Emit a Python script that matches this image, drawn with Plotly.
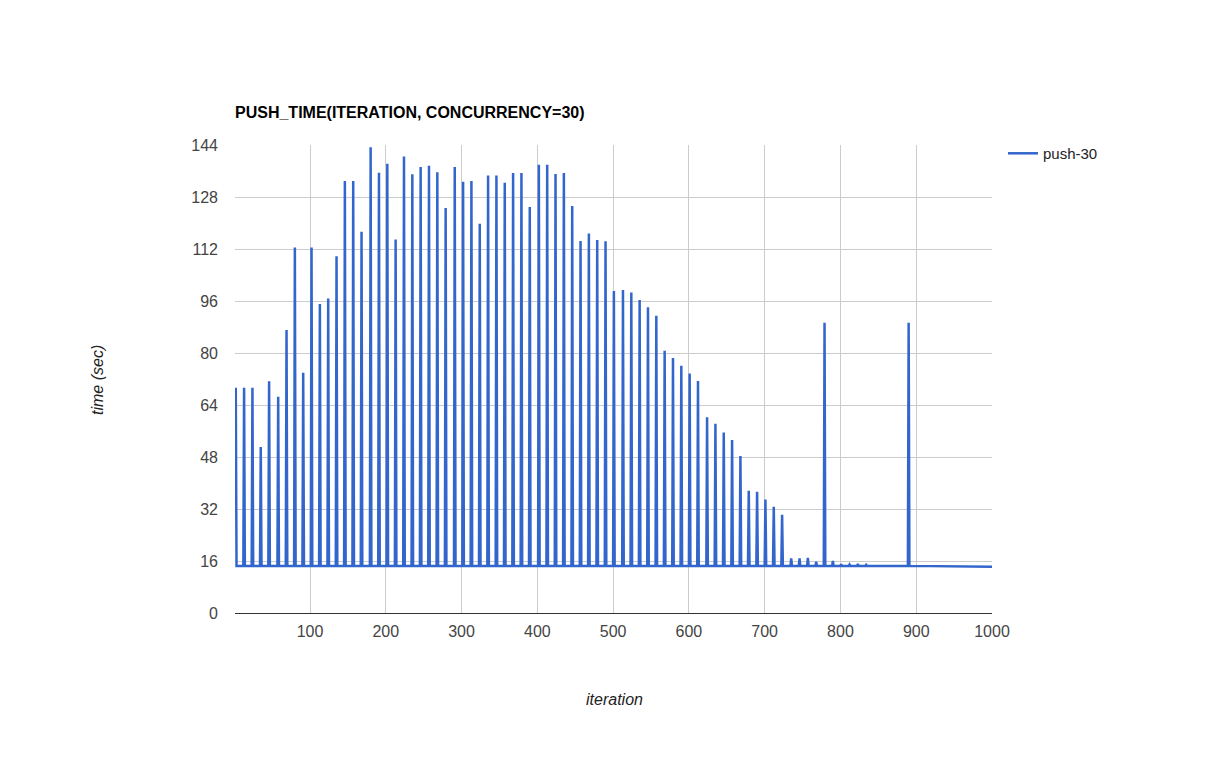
import plotly.graph_objects as go

# ---- data ----
start_iter = 1
start_time = 42.0
baseline = 14.5
end_iter = 1000
end_time = 14.2

spike_iters = [2, 13, 24, 35, 46, 58, 69, 80, 91, 102,
               113, 124, 135, 146, 157, 168, 180, 191, 202, 213,
               224, 235, 246, 257, 268, 279, 291, 302, 313, 324,
               335, 346, 357, 368, 379, 390, 402, 413, 424, 435,
               446, 457, 468, 479, 490, 501, 513, 524, 535, 546,
               557, 568, 579, 590, 601, 612, 624, 635, 646, 657,
               668, 679, 690, 701, 712, 723, 735, 746, 757, 768,
               779, 790, 801, 812, 823, 834, 890]
spike_peaks = [69.3, 69.3, 69.3, 51.1, 71.3, 66.5, 87.1, 112.5, 73.9, 112.5,
               95.1, 96.8, 109.8, 132.9, 132.9, 117.3, 143.3, 135.5, 138.2, 114.9,
               140.5, 135.0, 137.2, 137.6, 135.6, 124.6, 137.2, 132.7, 132.9, 119.8,
               134.6, 134.6, 132.4, 135.4, 135.4, 124.9, 137.9, 137.9, 135.1, 135.4,
               125.2, 114.5, 116.8, 114.8, 114.4, 99.1, 99.4, 98.6, 96.3, 94.1,
               91.5, 80.7, 78.5, 76.1, 73.7, 71.4, 60.2, 58.2, 55.5, 53.2,
               48.3, 37.6, 37.3, 34.9, 32.7, 30.2, 16.8, 16.8, 17.0, 15.8,
               89.3, 16.0, 15.0, 14.9, 15.1, 14.8, 89.3]

x_ticks = [100, 200, 300, 400, 500, 600, 700, 800, 900, 1000]
y_ticks = [0, 16, 32, 48, 64, 80, 96, 112, 128, 144]

# ---- build the line: baseline between spikes ----
xs = [start_iter]
ys = [start_time]
for s, p in zip(spike_iters, spike_peaks):
    if s - 1 > xs[-1]:
        xs.append(s - 1)
        ys.append(baseline)
    xs.append(s)
    ys.append(p)
    xs.append(s + 1)
    ys.append(baseline)
xs.append(end_iter)
ys.append(end_time)

FONT = "Arial, Liberation Sans, sans-serif"

# page body has an 8px margin; figure sized so plot area lands at
# x 235..992, y 145..613 in the 1227x759 window
W, H = 1211, 743
OFF = 8

fig = go.Figure()
fig.add_trace(go.Scatter(
    x=xs, y=ys, mode="lines", name="push-30",
    line=dict(color="#3366cc", width=2.5),
))

fig.update_layout(
    width=W, height=H,
    paper_bgcolor="white", plot_bgcolor="white",
    margin=dict(l=235 - OFF, r=W - (992 - OFF), t=145 - OFF, b=H - (613 - OFF)),
    font=dict(family=FONT, size=16, color="#444444"),
    showlegend=True,
    legend=dict(x=1.0145, y=1.017, xanchor="left", yanchor="top",
                font=dict(family=FONT, size=15, color="#222222"),
                bgcolor="rgba(0,0,0,0)"),
    title=dict(text="<b>PUSH_TIME(ITERATION, CONCURRENCY=30)</b>",
               x=(235 - OFF) / W, xanchor="left", xref="container",
               y=1 - (112 - OFF) / H, yanchor="middle", yref="container",
               font=dict(family=FONT, size=16, color="#000000")),
    annotations=[
        dict(text="<i>time (sec)</i>", xref="paper", yref="paper",
             x=(97 - 235) / 757, y=(613 - 380) / 468, showarrow=False,
             xanchor="center", yanchor="middle",
             textangle=-90, font=dict(family=FONT, size=16, color="#222222")),
        dict(text="<i>iteration</i>", xref="paper", yref="paper",
             x=(614 - 235) / 757, y=(613 - 699) / 468, showarrow=False,
             xanchor="center", yanchor="middle",
             font=dict(family=FONT, size=16, color="#222222")),
    ],
)

fig.update_xaxes(
    range=[1, 1000], tickvals=x_ticks, ticktext=[str(v) for v in x_ticks],
    showgrid=True, gridcolor="#cccccc", gridwidth=1,
    zeroline=False, showline=False, ticks="", ticklabelstandoff=7,
    tickfont=dict(family=FONT, size=16, color="#444444"),
)
fig.update_yaxes(
    range=[0, 144], tickvals=y_ticks, ticktext=[str(v) for v in y_ticks],
    showgrid=True, gridcolor="#cccccc", gridwidth=1,
    zeroline=True, zerolinecolor="#333333", zerolinewidth=1,
    showline=False, ticks="", ticklabelstandoff=16,
    tickfont=dict(family=FONT, size=16, color="#444444"),
)

fig.write_html("out.html")
